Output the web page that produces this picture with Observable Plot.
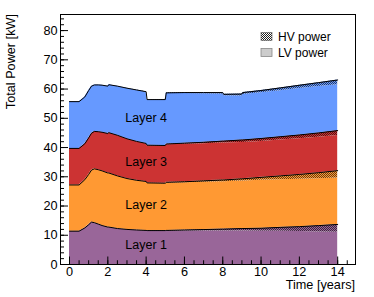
<!DOCTYPE html>
<html><head><meta charset="utf-8">
<script src="https://cdn.jsdelivr.net/npm/d3@7"></script>
<script src="https://cdn.jsdelivr.net/npm/@observablehq/plot@0.6"></script>
<style>
html,body{margin:0;padding:0;background:#fff;}
#chart{position:relative;width:374px;height:297px;}
</style></head><body><div id="chart"></div>
<script>
// ---- data ----
const times = [0, 0.5, 0.8, 1.0, 1.15, 1.3, 1.5, 1.7, 2.0, 2.05, 2.5, 3.0, 3.5, 4.0, 4.05, 5.0, 5.05, 6, 7, 8, 8.05, 9, 9.05, 10, 11, 12, 13, 14];
const layers = ["Layer 1", "Layer 2", "Layer 3", "Layer 4"];
const lv1 = [11.4, 11.4, 12.5, 13.6, 14.5, 14.3, 13.8, 13.3, 12.75, 12.75, 12.23, 11.91, 11.68, 11.49, 11.44, 11.35, 11.4, 11.42, 11.43, 11.42, 11.42, 11.45, 11.44, 11.35, 11.35, 11.25, 11.15, 11.0];
const hv1 = [0, 0, 0, 0, 0, 0.01, 0.02, 0.03, 0.05, 0.05, 0.07, 0.09, 0.12, 0.16, 0.16, 0.25, 0.25, 0.38, 0.52, 0.68, 0.68, 0.85, 0.86, 1.05, 1.35, 1.7, 2.15, 2.7];
const lv2 = [15.8, 15.8, 16.5, 17.2, 17.8, 18.39, 18.58, 18.67, 18.45, 18.45, 17.93, 17.31, 16.88, 16.6, 16.15, 15.98, 16.23, 16.17, 16.19, 16.2, 16.2, 16.22, 16.22, 16.4, 16.3, 16.2, 16.05, 15.9];
const hv2 = [0, 0, 0, 0, 0, 0.01, 0.02, 0.03, 0.05, 0.05, 0.07, 0.09, 0.12, 0.15, 0.15, 0.22, 0.22, 0.33, 0.46, 0.6, 0.6, 0.78, 0.78, 1.0, 1.3, 1.65, 2.05, 2.5];
const lv3 = [12.5, 12.5, 12.3, 12.5, 12.6, 12.79, 12.98, 13.16, 13.44, 13.74, 13.81, 13.48, 13.14, 12.8, 12.7, 12.62, 12.82, 12.82, 12.7, 12.65, 12.65, 12.45, 12.45, 12.3, 12.25, 12.2, 12.1, 12.0];
const hv3 = [0, 0, 0, 0, 0, 0.01, 0.02, 0.04, 0.06, 0.06, 0.09, 0.12, 0.16, 0.2, 0.2, 0.28, 0.28, 0.38, 0.5, 0.65, 0.65, 0.85, 0.85, 1.0, 1.15, 1.3, 1.5, 1.7];
const lv4 = [16.0, 16.0, 16.0, 16.2, 16.1, 15.89, 15.98, 16.07, 16.15, 16.35, 16.73, 17.21, 17.48, 17.55, 15.45, 15.5, 17.3, 17.02, 16.62, 16.1, 15.5, 15.05, 15.55, 15.6, 15.75, 15.85, 15.85, 15.7];
const hv4 = [0, 0, 0, 0, 0, 0.01, 0.02, 0.03, 0.05, 0.05, 0.07, 0.09, 0.12, 0.15, 0.15, 0.2, 0.2, 0.28, 0.38, 0.5, 0.5, 0.65, 0.65, 0.8, 0.95, 1.15, 1.35, 1.6];
const layerColors = ["#996699", "#ff9933", "#cc3333", "#6699ff"];
const labelX = [4, 4, 4, 4];
const labelY = [6.7, 20.2, 34.9, 50];
const xTicks = [0, 2, 4, 6, 8, 10, 12, 14];
const yTicks = [0, 10, 20, 30, 40, 50, 60, 70, 80];
const xMinor = d3.range(0, 14.51, 0.5);
const yMinor = d3.range(0, 85, 2);
const legendItems = ["HV power", "LV power"];

// ---- build table ----
const lvSeries = [lv1, lv2, lv3, lv4];
const hvSeries = [hv1, hv2, hv3, hv4];
const rows = [];
layers.forEach((name, i) => {
  times.forEach((t, j) => rows.push({t, key: name + " LV", type: "LV", v: lvSeries[i][j]}));
  times.forEach((t, j) => rows.push({t, key: name + " HV", type: "HV", v: hvSeries[i][j]}));
});
const keys = layers.flatMap(n => [n + " LV", n + " HV"]);
const fills = layers.flatMap((n, i) => [layerColors[i], `url(#hv${i})`]);
const labels = layers.map((n, i) => ({name: n, x: labelX[i], y: labelY[i]}));

const W = 374, H = 297, mL = 60, mR = 19, mT = 14, mB = 33;
const fw = W - mL - mR, fh = H - mT - mB;

const plot = Plot.plot({
  width: W, height: H,
  marginLeft: mL, marginRight: mR, marginTop: mT, marginBottom: mB,
  style: {fontFamily: "'Liberation Sans', Arial, Helvetica, sans-serif", fontSize: "12.7px", color: "#000", background: "#fff", overflow: "visible"},
  x: {domain: [-0.47, 14.93], ticks: xTicks, tickSize: 0, tickPadding: 2.5, label: null},
  y: {domain: [0, 85.5], ticks: yTicks, tickSize: 0, tickPadding: 3, label: null},
  color: {type: "ordinal", domain: keys, range: fills},
  marks: [
    Plot.areaY(rows, {x: "t", y: "v", z: "key", fill: "key", order: keys}),
    Plot.lineY(rows, Plot.stackY2({x: "t", y: "v", z: "key", order: keys, stroke: d => d.type === "HV" ? "#000" : "none", strokeWidth: 1})),
    Plot.text(labels, {x: "x", y: "y", text: "name", fontSize: 12.5, fill: "#000"}),
    Plot.ruleX(xMinor, {x: d => d, insetTop: fh - 3.75, stroke: "#000"}),
    Plot.ruleX(xTicks, {x: d => d, insetTop: fh - 7.5, stroke: "#000"}),
    Plot.ruleY(yMinor, {y: d => d, insetRight: fw - 4, stroke: "#000"}),
    Plot.ruleY(yTicks, {y: d => d, insetRight: fw - 8, stroke: "#000"}),
    Plot.frame({stroke: "#000"})
  ]
});

const svg = d3.select(plot);
const defs = svg.insert("defs", ":first-child");
function checker(id, bg, fg, op) {
  const p = defs.append("pattern").attr("id", id).attr("patternUnits", "userSpaceOnUse").attr("width", 2).attr("height", 2);
  p.append("rect").attr("width", 2).attr("height", 2).attr("fill", bg);
  p.append("rect").attr("width", 1).attr("height", 1).attr("fill", fg).attr("fill-opacity", op);
  p.append("rect").attr("x", 1).attr("y", 1).attr("width", 1).attr("height", 1).attr("fill", fg).attr("fill-opacity", op);
}
layerColors.forEach((c, i) => checker(`hv${i}`, c, "#000", 0.6));
checker("hvlegend", "#ffffff", "#222222", 1);

// axis titles
svg.append("text").attr("x", mL + fw).attr("y", 289).attr("text-anchor", "end")
  .attr("font-size", 12.7).attr("fill", "#000").text("Time [years]");
svg.append("text").attr("transform", `translate(15,${mT}) rotate(-90)`).attr("text-anchor", "end")
  .attr("font-size", 12.7).attr("fill", "#000").text("Total Power [kW]");

// legend
const lg = svg.append("g").attr("font-size", 12).attr("fill", "#000").attr("text-anchor", "start");
lg.append("rect").attr("x", 261).attr("y", 32.5).attr("width", 11).attr("height", 8)
  .attr("fill", "url(#hvlegend)").attr("stroke", "#555").attr("stroke-width", 0.6);
lg.append("rect").attr("x", 261).attr("y", 48.5).attr("width", 11).attr("height", 8)
  .attr("fill", "#cccccc").attr("stroke", "#888").attr("stroke-width", 0.8);
lg.append("text").attr("x", 278).attr("y", 40.5).attr("text-anchor", "start").text(legendItems[0]);
lg.append("text").attr("x", 278).attr("y", 56.5).attr("text-anchor", "start").text(legendItems[1]);

document.getElementById("chart").appendChild(plot);
</script>
</body></html>
